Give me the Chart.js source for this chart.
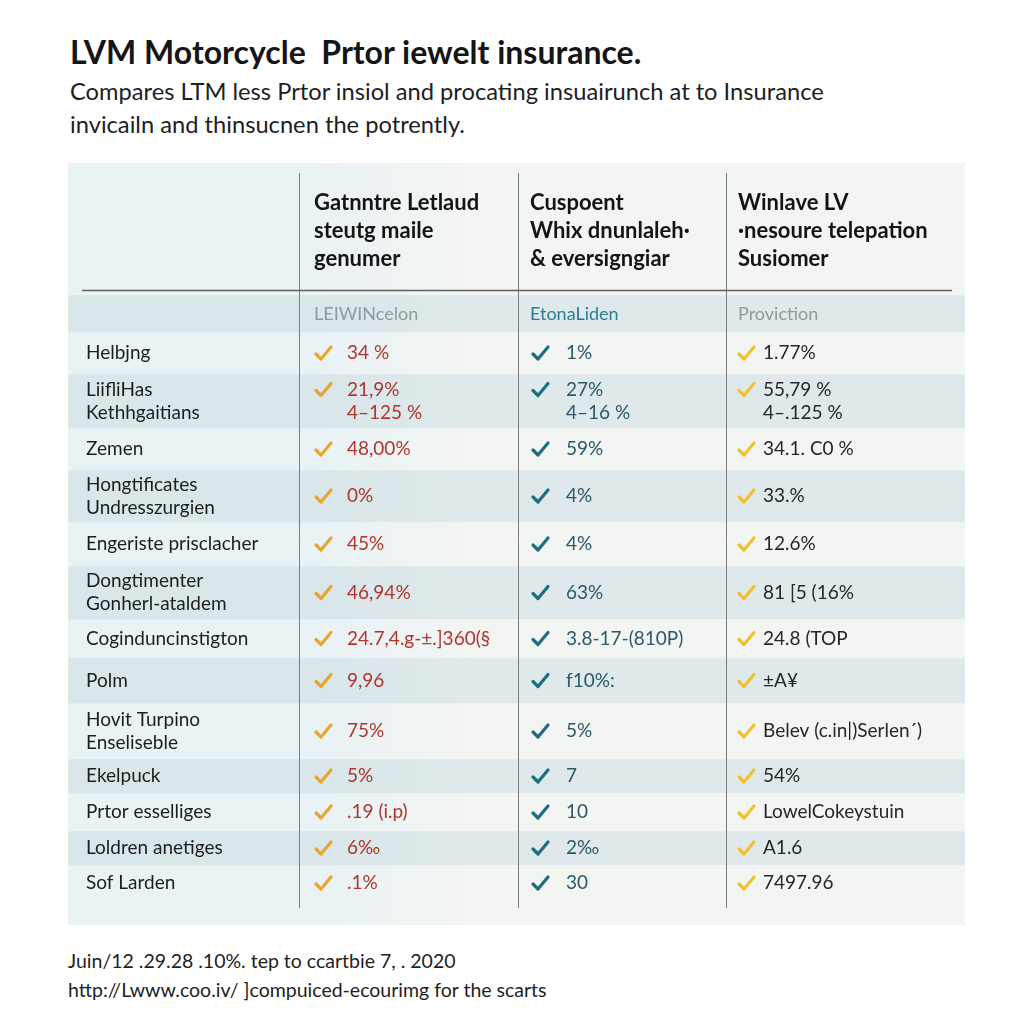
<!DOCTYPE html>
<html>
<head>
<meta charset="utf-8">
<script src="https://cdn.jsdelivr.net/npm/chart.js@4/dist/chart.umd.min.js"></script>
<style>
  html, body { margin: 0; padding: 0; background: #ffffff; }
  body { width: 1024px; height: 1024px; position: relative; overflow: hidden; font-family: Lato, "Noto Sans", sans-serif; color: #1c1c1c; }
  #title { position: absolute; left: 70px; top: 32px; font-size: 32px; line-height: 40px; font-weight: 700; color: #151515; white-space: pre; letter-spacing: 0px; }
  #subtitle { position: absolute; left: 70px; top: 75px; font-size: 23.7px; line-height: 33px; color: #1e1e1e; white-space: pre; }
  #footer { position: absolute; left: 68px; top: 946px; font-size: 19.5px; line-height: 29px; color: #1e1e1e; white-space: pre; }
  #wrap { position: absolute; left: 68px; top: 163px; width: 897px; height: 762px; }
</style>
</head>
<body>
<div id="title"></div>
<div id="subtitle"></div>
<div id="wrap"><canvas id="c" width="897" height="762"></canvas></div>
<div id="footer"></div>
<script>
// ---------- DATA ----------
const titleText = "LVM Motorcycle  Prtor iewelt insurance.";
const subtitleLines = ["Compares LTM less Prtor insiol and procating insuairunch at to Insurance", "invicailn and thinsucnen the potrently."];
const footerLines = ["Juin/12 .29.28 .10%. tep to ccartbie 7, . 2020", "http://Lwww.coo.iv/ ]compuiced-ecourimg for the scarts"];

const columnHeaders = [
  ["Gatnntre Letlaud", "steutg maile", "genumer"],
  ["Cuspoent", "Whix dnunlaleh\u00b7", "& eversigngiar"],
  ["Winlave LV", "\u00b7nesoure telepation", "Susiomer"]
];
const subHeaders = ["LEIWINcelon", "EtonaLiden", "Proviction"];

const rowLabels = [
  ["Helbjng"],
  ["LiifliHas", "Kethhgaitians"],
  ["Zemen"],
  ["Hongtificates", "Undresszurgien"],
  ["Engeriste prisclacher"],
  ["Dongtimenter", "Gonherl-ataldem"],
  ["Cogindunc" + "instigton"],
  ["Polm"],
  ["Hovit Turpino", "Enseliseble"],
  ["Ekelpuck"],
  ["Prtor esselliges"],
  ["Loldren anetiges"],
  ["Sof Larden"]
];
const seriesA = [["34 %"], ["21,9%", "4\u2013125 %"], ["48,00%"], ["0%"], ["45%"], ["46,94%"], ["24.7,4.g-\u00b1.]360(\u00a7"], ["9,96"], ["75%"], ["5%"], [".19 (i.p)"], ["6\u2030"], [".1%"]];
const seriesB = [["1%"], ["27%", "4\u201316 %"], ["59%"], ["4%"], ["4%"], ["63%"], ["3.8-17-(810P)"], ["f10%:"], ["5%"], ["7"], ["10"], ["2\u2030"], ["30"]];
const seriesC = [["1.77%"], ["55,79 %", "4\u2013.125 %"], ["34.1. C0 %"], ["33.%"], ["12.6%"], ["81 [5 (16%"], ["24.8 (TOP"], ["\u00b1A\u00a5"], ["Belev (c.in|)Serlen\u00b4)"], ["54%"], ["LowelCokeystuin"], ["A1.6"], ["7497.96"]];

// ---------- LAYOUT (px heights of table bands: header, sub-header, 13 rows, bottom pad) ----------
const BAND_HEIGHTS = [132, 37, 42, 54, 42, 52, 44, 53, 39, 45, 56, 34, 38, 34, 36, 24];
const DIVIDERS = [231, 450, 658];
const CHECK_X = [247, 464, 670];
const VALUE_X = [279, 498, 695];
const HEAD_X = [246, 462, 670];
const LABEL_X = 18;

const COL_TEXT = ["#b0352c", "#2b5868", "#262626"];
const COL_CHECK = ["#e8a531", "#1c6e80", "#f0c232"];
const SUB_COLORS = ["#8e9b9d", "#2a7d96", "#8e9b9d"];

document.getElementById('title').textContent = titleText;
document.getElementById('subtitle').textContent = subtitleLines.join('\n');
document.getElementById('footer').textContent = footerLines.join('\n');

function bandFill(i) {
  return function (ctx) {
    const chart = ctx.chart;
    const area = chart.chartArea;
    const dark = (i % 2 === 1) && i < BAND_HEIGHTS.length - 1;
    const a = dark ? "#d9e6ea" : "#e9f2f5";
    const b = dark ? "#dfe9eb" : "#f3f5f3";
    if (!area) return b;
    const g = chart.ctx.createLinearGradient(area.left, 0, area.right, 0);
    g.addColorStop(0, a);
    g.addColorStop(0.28, a);
    g.addColorStop(0.45, b);
    g.addColorStop(1, b);
    return g;
  };
}

function drawCheck(c, x, y, color) {
  c.save();
  c.strokeStyle = color;
  c.lineWidth = 3.2;
  c.lineCap = 'round';
  c.lineJoin = 'round';
  c.beginPath();
  c.moveTo(x + 1, y + 1);
  c.lineTo(x + 6, y + 6);
  c.lineTo(x + 16, y - 6);
  c.stroke();
  c.restore();
}

const tablePlugin = {
  id: 'tableText',
  afterDatasetsDraw(chart) {
    const c = chart.ctx;
    const area = chart.chartArea;
    const band = (i) => {
      const el = chart.getDatasetMeta(i).data[0];
      const top = Math.min(el.y, el.base), bot = Math.max(el.y, el.base);
      return { top, bot, mid: (top + bot) / 2 };
    };
    c.save();
    // vertical dividers
    c.strokeStyle = "#7a7d7e";
    c.lineWidth = 1;
    DIVIDERS.forEach(d => {
      c.beginPath();
      c.moveTo(area.left + d + 0.5, area.top + 10);
      c.lineTo(area.left + d + 0.5, band(14).bot + 7);
      c.stroke();
    });
    // header rule
    const hb = band(0);
    c.strokeStyle = "#5f6263";
    c.lineWidth = 1.5;
    c.beginPath();
    c.moveTo(area.left + 14, hb.bot - 4.5);
    c.lineTo(area.left + 884, hb.bot - 4.5);
    c.stroke();

    c.textBaseline = 'middle';
    c.textAlign = 'left';
    // headers
    c.font = "700 22px Lato";
    c.fillStyle = "#141414";
    columnHeaders.forEach((lines, k) => {
      const n = lines.length, lh = 28;
      const y0 = hb.mid + 2 - (n - 1) * lh / 2;
      lines.forEach((t, j) => c.fillText(t, area.left + HEAD_X[k], y0 + j * lh));
    });
    // sub headers
    const sb = band(1);
    c.font = "400 18px Lato";
    subHeaders.forEach((t, k) => {
      c.fillStyle = SUB_COLORS[k];
      c.fillText(t, area.left + HEAD_X[k], sb.mid + 1);
    });
    // body rows
    const lh = 23;
    rowLabels.forEach((lab, r) => {
      const b = band(r + 2);
      c.font = "400 19px Lato";
      c.fillStyle = "#1d1d1d";
      let y0 = b.mid - (lab.length - 1) * lh / 2;
      lab.forEach((t, j) => c.fillText(t, area.left + LABEL_X, y0 + j * lh));
      [seriesA, seriesB, seriesC].forEach((ser, k) => {
        const vals = ser[r];
        const vy0 = b.mid - (vals.length - 1) * lh / 2;
        drawCheck(c, area.left + CHECK_X[k], vy0, COL_CHECK[k]);
        c.font = "400 19px Lato";
        c.fillStyle = COL_TEXT[k];
        vals.forEach((t, j) => c.fillText(t, area.left + VALUE_X[k], vy0 + j * lh));
      });
    });
    c.restore();
  }
};

const total = BAND_HEIGHTS.reduce((s, v) => s + v, 0);
new Chart(document.getElementById('c'), {
  type: 'bar',
  data: {
    labels: ['table'],
    datasets: BAND_HEIGHTS.map((h, i) => ({
      label: 'band' + i,
      data: [h],
      backgroundColor: bandFill(i),
      borderWidth: 0,
      barPercentage: 1,
      categoryPercentage: 1
    }))
  },
  options: {
    responsive: false,
    animation: false,
    layout: { padding: 0 },
    plugins: { legend: { display: false }, tooltip: { enabled: false }, title: { display: false } },
    scales: {
      x: { stacked: true, display: false },
      y: { stacked: true, display: false, reverse: true, min: 0, max: total }
    }
  },
  plugins: [tablePlugin]
});
</script>
</body>
</html>
